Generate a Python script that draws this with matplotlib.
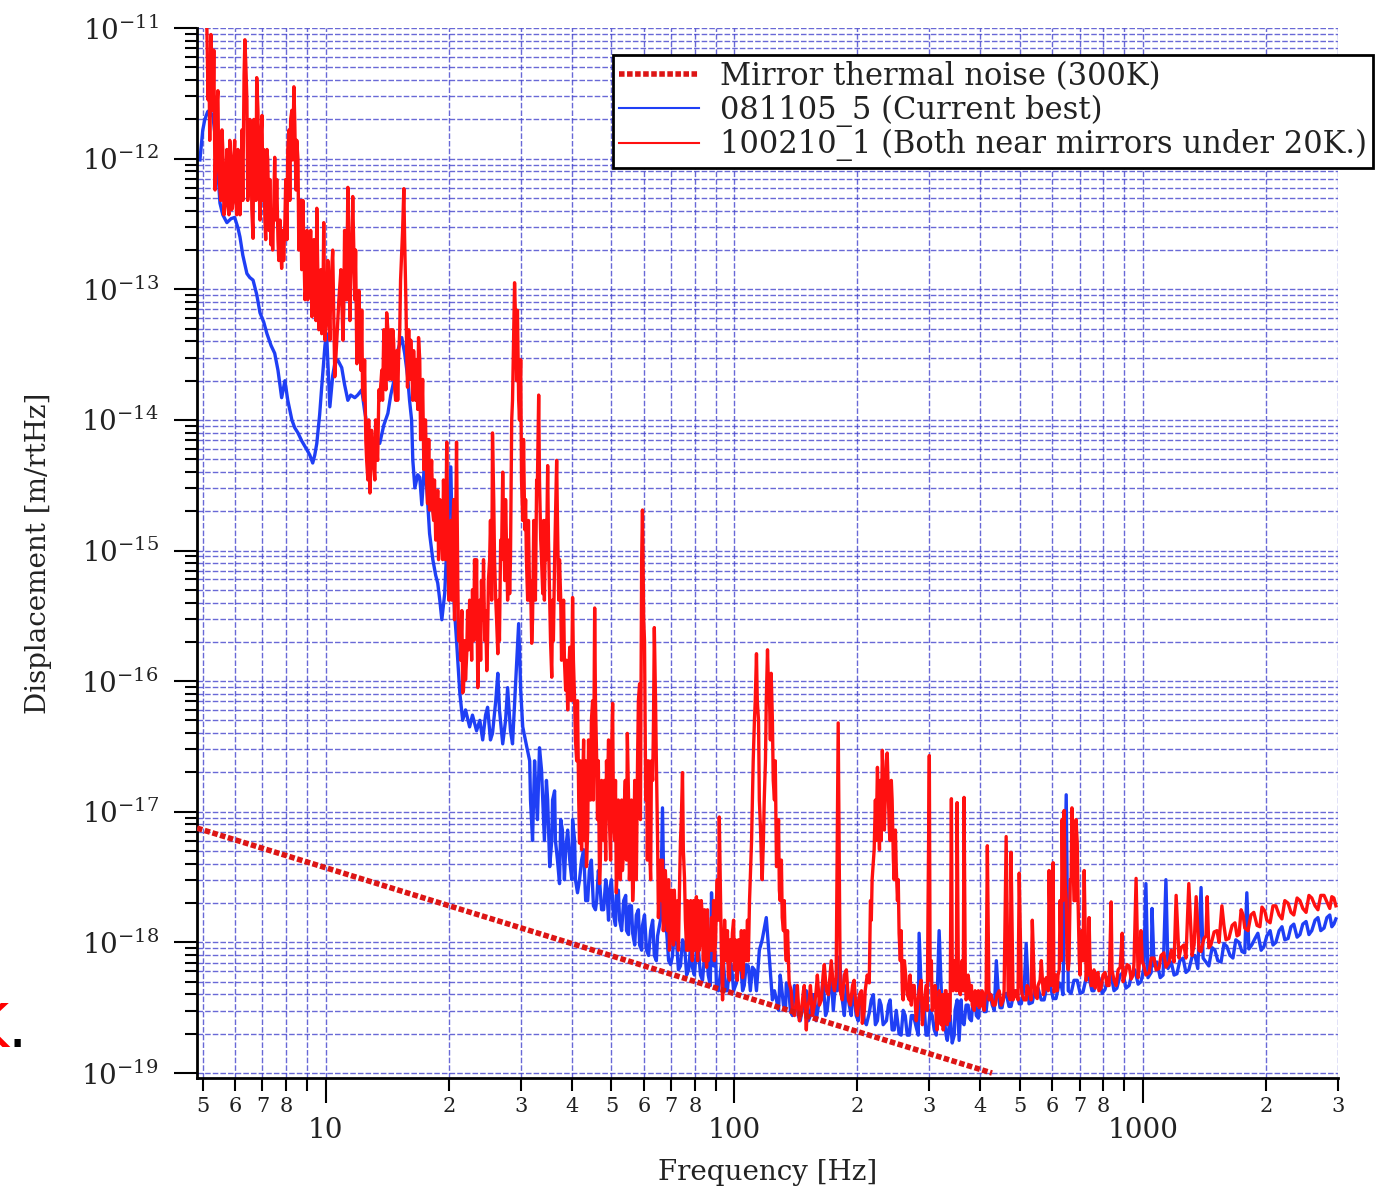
import numpy as np
import matplotlib
matplotlib.use("Agg")
import matplotlib.pyplot as plt
from matplotlib.ticker import FixedLocator, FuncFormatter, LogFormatterMathtext, NullFormatter

plt.rcParams['font.family'] = 'DejaVu Serif'
plt.rcParams['mathtext.default'] = 'regular'
plt.rcParams['axes.unicode_minus'] = False

# mirror thermal noise (300 K): power law, end points
thermal_freq = [4.84, 427.0]
thermal_disp = [7.5e-18, 1.0e-19]

# 081105_5 spectrum, log10(freq [Hz]) and log10(displacement [m/rtHz])
blue_logf = [
    0.692, 0.699, 0.704, 0.711, 0.716, 0.724, 0.729, 0.733, 0.738, 0.741,
    0.748, 0.758, 0.768, 0.777, 0.785, 0.790, 0.797, 0.807, 0.814, 0.822,
    0.831, 0.839, 0.848, 0.856, 0.866, 0.875, 0.883, 0.892, 0.900, 0.907,
    0.917, 0.924, 0.932, 0.941, 0.954, 0.961, 0.968, 0.973, 0.978, 0.985,
    0.990, 0.998, 1.002, 1.007, 1.010, 1.017, 1.022, 1.029, 1.039, 1.046,
    1.054, 1.061, 1.071, 1.078, 1.088, 1.095, 1.103, 1.110, 1.115, 1.125,
    1.132, 1.142, 1.152, 1.159, 1.169, 1.176, 1.186, 1.193, 1.200, 1.205,
    1.210, 1.213, 1.218, 1.225, 1.230, 1.235, 1.242, 1.249, 1.254, 1.262,
    1.269, 1.274, 1.279, 1.284, 1.291, 1.298, 1.306, 1.311, 1.315, 1.320,
    1.328, 1.335, 1.342, 1.352, 1.359, 1.369, 1.377, 1.384, 1.391, 1.396,
    1.403, 1.408, 1.416, 1.421, 1.425, 1.433, 1.440, 1.445, 1.452, 1.457,
    1.465, 1.472, 1.477, 1.482, 1.491, 1.499, 1.506, 1.514, 1.523, 1.531,
    1.540, 1.548, 1.555, 1.562, 1.572, 1.579, 1.587, 1.597, 1.604, 1.611,
    1.616, 1.626, 1.636, 1.645, 1.655, 1.663, 1.670, 1.680, 1.687, 1.694,
    1.704, 1.711, 1.719, 1.729, 1.736, 1.743, 1.751, 1.760, 1.768, 1.775,
    1.785, 1.795, 1.804, 1.812, 1.819, 1.824, 1.829, 1.839, 1.848, 1.858,
    1.868, 1.878, 1.888, 1.897, 1.907, 1.917, 1.927, 1.936, 1.944, 1.949,
    1.956, 1.963, 1.973, 1.983, 1.993, 2.005, 2.015, 2.024, 2.034, 2.044,
    2.054, 2.061, 2.068, 2.078, 2.086, 2.093, 2.103, 2.112, 2.120, 2.127,
    2.137, 2.147, 2.156, 2.166, 2.176, 2.186, 2.196, 2.208, 2.217, 2.227,
    2.237, 2.247, 2.257, 2.264, 2.274, 2.281, 2.289, 2.298, 2.308, 2.318,
    2.330, 2.340, 2.350, 2.359, 2.372, 2.381, 2.391, 2.403, 2.413, 2.423,
    2.433, 2.445, 2.452, 2.460, 2.469, 2.479, 2.489, 2.496, 2.501, 2.509,
    2.518, 2.526, 2.533, 2.540, 2.545, 2.550, 2.557, 2.567, 2.575, 2.584,
    2.592, 2.601, 2.611, 2.621, 2.631, 2.641, 2.650, 2.660, 2.672, 2.685,
    2.697, 2.709, 2.714, 2.721, 2.736, 2.751, 2.765, 2.780, 2.795, 2.804,
    2.812, 2.817, 2.831, 2.846, 2.861, 2.875, 2.885, 2.900, 2.914, 2.929,
    2.944, 2.958, 2.973, 2.988, 3.002, 3.007, 3.012, 3.022, 3.027, 3.042,
    3.056, 3.061, 3.076, 3.090, 3.105, 3.120, 3.134, 3.142, 3.147, 3.161,
    3.176, 3.191, 3.205, 3.220, 3.235, 3.249, 3.254, 3.259, 3.274, 3.289,
    3.303, 3.318, 3.333, 3.347, 3.362, 3.377, 3.391, 3.406, 3.421, 3.435,
    3.450, 3.462, 3.472,
]
blue_logd = [
    -12.01, -11.78, -11.70, -11.64, -11.63, -11.68, -11.82, -11.96, -12.20, -12.34,
    -12.43, -12.49, -12.46, -12.45, -12.53, -12.60, -12.74, -12.88, -12.91, -12.93,
    -13.04, -13.18, -13.25, -13.34, -13.43, -13.49, -13.62, -13.83, -13.70, -13.85,
    -14.00, -14.06, -14.10, -14.16, -14.23, -14.27, -14.33, -14.27, -14.18, -13.96,
    -13.75, -13.43, -13.34, -13.70, -13.90, -13.66, -13.57, -13.54, -13.60, -13.73,
    -13.85, -13.81, -13.83, -13.81, -13.77, -13.93, -14.08, -14.16, -14.18, -14.16,
    -14.18, -14.04, -13.95, -13.81, -13.67, -13.47, -13.37, -13.49, -13.66, -13.85,
    -14.00, -14.31, -14.52, -14.42, -14.44, -14.65, -14.31, -14.61, -14.87, -15.07,
    -15.19, -15.25, -15.38, -15.53, -15.33, -14.84, -14.36, -15.20, -15.46, -15.69,
    -16.09, -16.30, -16.22, -16.35, -16.26, -16.38, -16.30, -16.45, -16.26, -16.20,
    -16.45, -16.40, -16.15, -15.94, -16.22, -16.48, -16.30, -16.05, -16.38, -16.48,
    -15.99, -15.56, -16.07, -16.35, -16.49, -16.61, -17.22, -16.84, -16.51, -16.91,
    -16.76, -17.42, -16.91, -17.22, -17.55, -17.14, -17.29, -17.37, -17.06, -17.52,
    -17.62, -17.37, -17.68, -17.45, -17.72, -17.68, -17.52, -17.75, -17.56, -17.62,
    -17.79, -17.64, -17.83, -17.68, -17.91, -17.72, -17.93, -17.79, -18.02, -17.87,
    -18.06, -17.91, -18.10, -17.95, -17.83, -16.97, -17.91, -18.14, -18.11, -17.98,
    -18.18, -18.02, -18.21, -18.19, -18.06, -18.25, -18.10, -18.25, -17.62, -18.18,
    -18.33, -18.31, -18.14, -18.37, -18.18, -18.31, -18.14, -18.33, -18.18, -18.19,
    -18.37, -18.06, -17.98, -17.81, -18.14, -18.44, -18.44, -18.25, -18.48, -18.31,
    -18.52, -18.33, -18.56, -18.52, -18.37, -18.56, -18.40, -18.44, -18.29, -18.52,
    -18.25, -18.33, -18.11, -18.44, -18.33, -18.48, -18.39, -18.56, -18.40, -18.60,
    -18.54, -18.40, -18.60, -18.48, -18.60, -18.44, -18.67, -18.70, -18.52, -18.71,
    -18.56, -18.65, -17.93, -18.60, -18.71, -18.52, -18.67, -18.44, -17.91, -18.60,
    -18.71, -18.63, -18.77, -18.52, -18.44, -18.75, -18.60, -18.48, -18.58, -18.43,
    -18.56, -18.40, -18.53, -18.37, -18.48, -18.14, -18.50, -18.40, -18.49, -18.37,
    -18.47, -18.35, -18.01, -18.47, -18.35, -18.44, -18.33, -18.43, -18.31, -18.40,
    -16.87, -18.37, -18.29, -18.39, -18.27, -18.37, -18.29, -18.39, -18.27, -18.37,
    -18.25, -18.35, -18.23, -18.32, -18.20, -17.55, -18.27, -17.74, -18.18, -18.27,
    -17.52, -18.20, -18.25, -18.14, -18.23, -18.11, -18.20, -17.58, -18.12, -18.18,
    -18.06, -18.15, -18.03, -18.12, -18.00, -18.08, -17.62, -18.05, -17.97, -18.06,
    -17.95, -18.02, -17.91, -17.98, -17.88, -17.96, -17.86, -17.94, -17.83, -17.91,
    -17.81, -17.88, -17.82,
]
# extra bins of the noise band above 30 Hz
blue_extra_logf = [
    1.501, 1.511, 1.518, 1.528, 1.535, 1.543, 1.553, 1.560, 1.567, 1.575,
    1.584, 1.592, 1.602, 1.609, 1.621, 1.631, 1.641, 1.650, 1.660, 1.667,
    1.675, 1.685, 1.692, 1.699, 1.709, 1.716, 1.724, 1.734, 1.741, 1.748,
    1.756, 1.765, 1.773, 1.780, 1.790, 1.800, 1.809, 1.834, 1.844, 1.853,
    1.863, 1.873, 1.883, 1.893, 1.902, 1.912, 1.922, 1.932, 1.941, 1.954,
    1.961, 1.968, 1.978, 1.988, 1.998, 2.010, 2.020, 2.029, 2.039, 2.049,
    2.098, 2.108, 2.115, 2.125, 2.132, 2.142, 2.152, 2.161, 2.171, 2.181,
    2.191, 2.200, 2.213, 2.223, 2.232, 2.242, 2.252, 2.269, 2.276, 2.286,
    2.293, 2.303, 2.313, 2.323, 2.335, 2.345, 2.355, 2.364, 2.377, 2.386,
    2.396, 2.408, 2.418, 2.428, 2.438, 2.450, 2.465, 2.474, 2.484, 2.494,
    2.513, 2.521, 2.528, 2.538, 2.555, 2.562, 2.572, 2.580, 2.589, 2.597,
    2.606, 2.616, 2.626, 2.636,
    2.646, 2.655, 2.665, 2.677, 2.690, 2.702, 2.729, 2.743, 2.758, 2.773,
    2.787, 2.800, 2.824, 2.839, 2.853, 2.868, 2.880, 2.892, 2.907, 2.922,
    2.936, 2.951, 2.966, 2.980, 2.995, 3.020, 3.034, 3.049, 3.069, 3.083,
    3.098, 3.112, 3.127, 3.154, 3.169, 3.183, 3.198, 3.213, 3.227, 3.242,
    3.266, 3.281, 3.296, 3.311, 3.325, 3.340, 3.355, 3.369, 3.384, 3.399,
    3.413, 3.428, 3.443, 3.457, 3.467,
]
blue_extra_logd = [
    -16.91, -16.61, -17.06, -16.68, -17.22, -16.91, -17.22, -16.84, -17.37, -17.06,
    -17.52, -17.14, -17.52, -17.22, -17.52, -17.29, -17.68, -17.37, -17.75, -17.45,
    -17.75, -17.52, -17.83, -17.52, -17.87, -17.60, -17.91, -17.64, -17.94, -17.72,
    -18.02, -17.75, -18.06, -17.79, -18.10, -17.83, -18.14, -17.91, -18.17, -17.94,
    -18.21, -17.98, -18.25, -18.02, -18.25, -18.06, -18.29, -18.06, -18.33, -18.10,
    -18.37, -18.17, -18.37, -18.14, -18.37, -18.17, -18.37, -18.17, -18.37, -18.21,
    -18.37, -18.52, -18.33, -18.52, -18.33, -18.56, -18.37, -18.60, -18.40, -18.60,
    -18.40, -18.60, -18.40, -18.56, -18.37, -18.52, -18.37, -18.56, -18.37, -18.56,
    -18.40, -18.60, -18.44, -18.63, -18.44, -18.63, -18.44, -18.63, -18.48, -18.67,
    -18.52, -18.71, -18.56, -18.71, -18.56, -18.71, -18.52, -18.71, -18.56, -18.71,
    -18.56, -18.75, -18.56, -18.71, -18.44, -18.63, -18.48, -18.60, -18.44, -18.58,
    -18.43, -18.53, -18.40, -18.52,
    -18.40, -18.50, -18.39, -18.49, -18.37, -18.47, -18.46, -18.35, -18.44, -18.33,
    -18.43, -18.33, -18.39, -18.29, -18.38, -18.27, -18.37, -18.27, -18.36, -18.25,
    -18.35, -18.23, -18.33, -18.21, -18.30, -18.23, -18.15, -18.25, -18.15, -18.24,
    -18.12, -18.21, -18.10, -18.15, -18.04, -18.14, -18.01, -18.10, -17.98, -18.07,
    -18.02, -17.93, -18.03, -17.91, -18.00, -17.88, -17.97, -17.86, -17.94, -17.84,
    -17.91, -17.81, -17.89, -17.79, -17.86,
]

# 100210_1 spectrum, same units
red_logf = [
    0.709, 0.714, 0.719, 0.724, 0.726, 0.731, 0.736, 0.741, 0.746, 0.753,
    0.758, 0.763, 0.768, 0.773, 0.777, 0.782, 0.787, 0.792, 0.800, 0.802,
    0.807, 0.812, 0.817, 0.822, 0.826, 0.831, 0.836, 0.844, 0.851, 0.858,
    0.866, 0.873, 0.875, 0.883, 0.892, 0.900, 0.907, 0.914, 0.922, 0.929,
    0.936, 0.944, 0.951, 0.958, 0.966, 0.973, 0.978, 0.985, 0.990, 0.995,
    1.002, 1.012, 1.022, 1.032, 1.042, 1.049, 1.054, 1.061, 1.066, 1.076,
    1.083, 1.090, 1.098, 1.103, 1.108, 1.115, 1.125, 1.132, 1.142, 1.149,
    1.156, 1.164, 1.171, 1.178, 1.186, 1.191, 1.196, 1.200, 1.210, 1.220,
    1.227, 1.235, 1.242, 1.249, 1.257, 1.262, 1.271, 1.279, 1.286, 1.296,
    1.303, 1.311, 1.320, 1.328, 1.335, 1.345, 1.355, 1.364, 1.372, 1.381,
    1.389, 1.394, 1.401, 1.408, 1.416, 1.421, 1.428, 1.433, 1.443, 1.450,
    1.455, 1.460, 1.462, 1.467, 1.469, 1.474, 1.479, 1.487, 1.491, 1.499,
    1.504, 1.511, 1.516, 1.521, 1.526, 1.531, 1.538, 1.543, 1.548, 1.553,
    1.560, 1.565, 1.572, 1.579, 1.587, 1.592, 1.597, 1.604, 1.609, 1.614,
    1.621, 1.628, 1.638, 1.645, 1.653, 1.658, 1.663, 1.670, 1.677, 1.687,
    1.694, 1.702, 1.707, 1.711, 1.719, 1.726, 1.733, 1.738, 1.746, 1.751,
    1.758, 1.763, 1.768, 1.773, 1.775, 1.780, 1.785, 1.792, 1.800, 1.804,
    1.809, 1.814, 1.819, 1.826, 1.834, 1.841, 1.848, 1.858, 1.866, 1.873,
    1.878, 1.883, 1.890, 1.897, 1.907, 1.914, 1.922, 1.932, 1.939, 1.944,
    1.951, 1.958, 1.963, 1.968, 1.971, 1.978, 1.985, 1.995, 2.005, 2.012,
    2.020, 2.027, 2.037, 2.042, 2.046, 2.054, 2.059, 2.064, 2.068, 2.073,
    2.078, 2.081, 2.086, 2.090, 2.095, 2.103, 2.110, 2.117, 2.125, 2.134,
    2.142, 2.152, 2.159, 2.169, 2.176, 2.183, 2.191, 2.200, 2.208, 2.217,
    2.225, 2.235, 2.242, 2.249, 2.254, 2.259, 2.269, 2.279, 2.289, 2.298,
    2.306, 2.313, 2.320, 2.330, 2.335, 2.342, 2.350, 2.355, 2.362, 2.367,
    2.374, 2.379, 2.386, 2.391, 2.396, 2.403, 2.411, 2.418, 2.428, 2.435,
    2.445, 2.452, 2.460, 2.467, 2.474, 2.477, 2.482, 2.489, 2.496, 2.504,
    2.511, 2.518, 2.526, 2.531, 2.535, 2.540, 2.545, 2.550, 2.557, 2.562,
    2.567, 2.575, 2.582, 2.592, 2.599, 2.609, 2.616, 2.619, 2.623, 2.633,
    2.643, 2.653, 2.660, 2.665, 2.670, 2.677, 2.682, 2.689, 2.697, 2.704,
    2.714, 2.721, 2.729, 2.736, 2.743, 2.751, 2.758, 2.765, 2.770, 2.775,
    2.780, 2.785, 2.792, 2.797, 2.802, 2.807, 2.812, 2.817, 2.822, 2.826,
    2.831, 2.836, 2.839, 2.844, 2.851, 2.856, 2.861, 2.868, 2.875, 2.885,
    2.892, 2.902, 2.912, 2.922, 2.929, 2.939, 2.949, 2.956, 2.966, 2.976,
    2.983, 2.990, 2.995, 3.002, 3.015, 3.027, 3.039, 3.051, 3.064, 3.081,
    3.088, 3.100, 3.112, 3.120, 3.130, 3.137, 3.149, 3.157, 3.166, 3.181,
    3.193, 3.203, 3.218, 3.230, 3.240, 3.249, 3.264, 3.279, 3.291, 3.303,
    3.318, 3.333, 3.347, 3.362, 3.377, 3.391, 3.406, 3.421, 3.435, 3.450,
    3.462, 3.472,
]
red_logd = [
    -11.00, -11.25, -11.05, -11.63, -11.17, -11.93, -11.48, -12.24, -11.78, -12.32,
    -11.93, -12.43, -12.01, -12.32, -11.86, -12.43, -12.09, -12.24, -11.36, -11.09,
    -11.55, -12.16, -11.78, -12.61, -11.86, -11.38, -12.09, -11.67, -12.47, -12.01,
    -12.66, -12.32, -11.99, -12.62, -12.84, -12.47, -11.93, -11.70, -11.45, -11.86,
    -12.55, -12.32, -13.01, -12.70, -13.21, -12.70, -12.38, -13.08, -13.34, -12.49,
    -13.24, -13.01, -13.67, -13.08, -13.39, -12.78, -12.22, -12.93, -12.29, -13.57,
    -13.24, -13.77, -14.16, -14.46, -14.56, -14.23, -14.25, -13.85, -13.31, -13.18,
    -13.54, -13.31, -13.85, -13.54, -12.70, -12.23, -13.08, -13.75, -13.54, -13.85,
    -13.37, -14.00, -14.31, -14.64, -14.46, -14.71, -14.84, -14.61, -15.07, -14.17,
    -15.20, -14.84, -14.17, -15.59, -16.09, -15.79, -15.53, -15.07, -16.05, -15.23,
    -15.69, -15.92, -15.07, -14.10, -15.38, -15.79, -14.92, -14.40, -15.07, -15.33,
    -14.00, -13.31, -12.95, -13.70, -13.16, -14.00, -14.46, -14.84, -15.07, -15.38,
    -15.71, -15.07, -14.46, -13.81, -14.92, -15.33, -14.77, -14.35, -15.38, -15.97,
    -15.07, -14.31, -15.07, -15.59, -16.07, -16.22, -15.74, -15.36, -16.15, -16.61,
    -17.24, -16.91, -17.42, -16.76, -16.15, -15.44, -16.61, -17.55, -17.01, -16.61,
    -17.06, -16.17, -17.22, -17.62, -17.06, -17.45, -16.76, -16.40, -17.29, -17.68,
    -17.06, -16.61, -16.02, -15.07, -14.69, -15.69, -16.61, -17.22, -16.76, -15.59,
    -16.61, -17.81, -17.37, -17.91, -17.68, -18.06, -17.75, -17.98, -17.52, -16.70,
    -17.52, -18.06, -17.83, -18.14, -17.65, -18.06, -17.83, -18.19, -17.91, -17.81,
    -18.14, -17.52, -17.04, -18.06, -18.44, -17.98, -18.25, -17.93, -18.21, -17.98,
    -18.27, -17.98, -17.68, -17.22, -16.61, -15.79, -16.30, -17.14, -17.52, -16.91,
    -16.15, -15.76, -16.15, -15.94, -16.76, -17.42, -17.60, -17.81, -18.06, -18.31,
    -18.52, -18.44, -18.60, -18.37, -18.67, -18.44, -18.56, -18.37, -18.48, -18.25,
    -18.37, -18.21, -18.33, -18.27, -16.32, -18.37, -18.25, -18.44, -18.33, -18.52,
    -18.40, -18.62, -18.37, -18.31, -17.83, -17.29, -16.66, -17.29, -16.53, -17.14,
    -16.55, -17.14, -16.91, -17.52, -17.42, -17.93, -18.37, -18.21, -18.44, -18.33,
    -18.60, -18.37, -18.63, -18.40, -17.68, -16.57, -18.14, -18.44, -18.67, -18.44,
    -18.67, -18.37, -18.60, -16.90, -18.37, -18.14, -16.93, -18.37, -18.14, -16.89,
    -18.44, -18.33, -18.48, -18.40, -18.50, -18.44, -18.37, -17.26, -18.44, -18.48,
    -18.40, -18.48, -18.37, -17.19, -18.40, -17.31, -18.44, -18.37, -17.47, -18.40,
    -18.44, -18.37, -17.83, -18.40, -18.33, -18.14, -18.37, -18.33, -17.45, -18.33,
    -17.39, -18.37, -18.25, -17.68, -17.06, -16.99, -17.68, -18.21, -17.52, -16.97,
    -17.68, -17.06, -17.24, -18.14, -17.91, -17.45, -18.29, -17.81, -18.33, -18.25,
    -18.37, -18.25, -18.33, -17.69, -18.29, -18.21, -17.93, -18.25, -18.18, -18.25,
    -17.51, -18.21, -17.91, -18.18, -18.23, -18.12, -18.20, -18.08, -18.15, -17.64,
    -18.12, -18.02, -17.55, -18.10, -17.65, -18.06, -17.97, -17.65, -18.02, -17.91,
    -17.72, -17.98, -17.87, -17.95, -17.75, -17.89, -17.79, -17.87, -17.73, -17.83,
    -17.72, -17.79, -17.68, -17.77, -17.66, -17.74, -17.64, -17.72, -17.64, -17.69,
    -17.65, -17.72,
]
# extra bins filling the noise band between the listed ones
red_extra_logf = [
    0.712, 0.716, 0.721, 0.729, 0.733, 0.738, 0.743, 0.748, 0.751, 0.756,
    0.760, 0.765, 0.770, 0.775, 0.780, 0.785, 0.790, 0.795, 0.797, 0.804,
    0.809, 0.814, 0.819, 0.824, 0.829, 0.834, 0.839, 0.841, 0.846, 0.848,
    0.853, 0.856, 0.861, 0.863, 0.868, 0.870, 0.878, 0.880, 0.885, 0.888,
    0.890, 0.895, 0.897, 0.902, 0.905, 0.910, 0.912, 0.917, 0.919, 0.924,
    0.927, 0.932, 0.934, 0.939, 0.941, 0.946, 0.949, 0.954, 0.956, 0.961,
    0.963, 0.968, 0.971, 0.976, 0.980, 0.983, 0.988, 0.993, 0.998,
    1.005, 1.010, 1.017, 1.027, 1.037, 1.044, 1.046, 1.051, 1.056, 1.059,
    1.064, 1.071, 1.073, 1.078, 1.081, 1.086, 1.088, 1.093, 1.095, 1.100,
    1.105, 1.110, 1.112, 1.120, 1.122, 1.127, 1.130, 1.137, 1.139, 1.144,
    1.147, 1.152, 1.154, 1.159, 1.161, 1.166, 1.169, 1.174, 1.176, 1.181,
    1.183, 1.188, 1.193, 1.198, 1.203, 1.205, 1.208, 1.213, 1.215, 1.218,
    1.222, 1.225, 1.230, 1.232, 1.237, 1.240, 1.244, 1.247, 1.252, 1.254,
    1.259, 1.264, 1.266, 1.269, 1.274, 1.276, 1.281, 1.284, 1.288, 1.293,
    1.298, 1.301, 1.306, 1.308, 1.313, 1.315, 1.318, 1.323, 1.325,
    1.330, 1.333, 1.337, 1.340, 1.342, 1.347, 1.350, 1.352, 1.357, 1.359,
    1.362, 1.367, 1.369, 1.374, 1.377, 1.379, 1.384, 1.386, 1.391, 1.396,
    1.398, 1.403, 1.406, 1.411, 1.413, 1.418, 1.423, 1.425, 1.430, 1.435,
    1.438, 1.440, 1.445, 1.447, 1.452, 1.457, 1.465, 1.472, 1.477, 1.482,
    1.484, 1.489, 1.494, 1.496, 1.501, 1.506, 1.509, 1.513, 1.518, 1.523,
    1.528, 1.533, 1.535, 1.540, 1.545, 1.550, 1.555, 1.557, 1.562, 1.567,
    1.570, 1.575, 1.577, 1.582, 1.584, 1.589, 1.594, 1.599, 1.601, 1.606,
    1.611, 1.616, 1.619, 1.623, 1.626, 1.631, 1.633, 1.636, 1.641, 1.643,
    1.648, 1.650, 1.655, 1.660, 1.665, 1.667, 1.672, 1.675, 1.680, 1.682,
    1.685, 1.689, 1.692, 1.697, 1.699, 1.704, 1.709, 1.714, 1.716, 1.721,
    1.724, 1.729, 1.731, 1.736, 1.741, 1.743, 1.748, 1.753, 1.756, 1.760,
    1.765, 1.770, 1.778, 1.783, 1.787, 1.790, 1.795, 1.797, 1.802, 1.807,
    1.812, 1.817, 1.822, 1.824, 1.829, 1.831, 1.836, 1.839, 1.844, 1.846,
    1.851, 1.853, 1.856, 1.861, 1.863, 1.868, 1.870, 1.875, 1.880, 1.885,
    1.888, 1.893, 1.895, 1.900, 1.902, 1.905, 1.910, 1.912, 1.917, 1.919,
    1.924, 1.927, 1.929, 1.934, 1.936, 1.941, 1.946, 1.949, 1.954, 1.956,
    1.961, 1.966, 1.973, 1.976, 1.980, 1.983, 1.988, 1.990, 1.993, 1.998,
    2.000, 2.002, 2.007, 2.010, 2.015, 2.017, 2.022, 2.024, 2.029, 2.032,
    2.034,
    2.049, 2.051, 2.056, 2.061, 2.066, 2.071, 2.076, 2.083, 2.088, 2.093,
    2.098, 2.100, 2.105, 2.108, 2.112, 2.115, 2.120, 2.122, 2.127, 2.130,
    2.139, 2.147, 2.154, 2.164, 2.171, 2.178, 2.186, 2.196, 2.203, 2.213,
    2.220, 2.230, 2.237, 2.245, 2.264, 2.274, 2.284, 2.293, 2.301, 2.311,
    2.318, 2.325, 2.333, 2.337, 2.345, 2.347, 2.352, 2.357, 2.359, 2.364,
    2.369, 2.372, 2.377, 2.381, 2.384, 2.389, 2.394, 2.399, 2.401, 2.406,
    2.408, 2.413, 2.416, 2.423, 2.430, 2.433, 2.440, 2.447, 2.457, 2.462,
    2.469, 2.472, 2.479, 2.484, 2.491, 2.494, 2.501, 2.506, 2.509, 2.513,
    2.516, 2.521, 2.523, 2.528, 2.533, 2.538, 2.543, 2.548, 2.553, 2.555,
    2.560, 2.565, 2.570, 2.572, 2.577, 2.580, 2.587, 2.589, 2.594, 2.597,
    2.604, 2.606, 2.611, 2.614, 2.628, 2.638, 2.648, 2.658, 2.675, 2.687,
    2.694, 2.702, 2.709, 2.716, 2.726, 2.734, 2.741, 2.748, 2.756, 2.763,
    2.768, 2.777, 2.782, 2.787, 2.790, 2.795, 2.800, 2.804, 2.809, 2.814,
    2.819, 2.824, 2.829, 2.834, 2.841, 2.846, 2.848, 2.853, 2.858, 2.863,
    2.866, 2.870, 2.873, 2.880, 2.883, 2.890, 2.897, 2.907, 2.917, 2.924,
    2.934, 2.944, 2.951, 2.961, 2.971, 2.978, 2.988, 2.998, 3.007, 3.020,
    3.032, 3.044, 3.056, 3.069, 3.076, 3.093, 3.105, 3.125, 3.142, 3.154,
    3.161, 3.174, 3.186, 3.198, 3.210, 3.225, 3.235, 3.245, 3.257, 3.271,
    3.286, 3.298, 3.311, 3.325, 3.340, 3.355, 3.369, 3.384, 3.399, 3.413,
    3.428, 3.443, 3.457, 3.467,
]
red_extra_logd = [
    -11.55, -11.86, -11.25, -12.24, -11.63, -12.09, -12.32, -11.93, -12.43, -12.09,
    -12.36, -11.86, -12.39, -12.01, -12.32, -11.93, -12.43, -11.78, -12.32, -11.25,
    -12.32, -11.70, -12.39, -11.70, -12.32, -11.63, -12.47, -11.86, -12.32, -11.93,
    -12.62, -11.93, -12.55, -12.16, -12.39, -12.70, -12.47, -12.16, -12.78, -12.47,
    -12.70, -12.55, -12.78, -12.16, -12.62, -11.78, -12.32, -11.63, -12.01, -11.70,
    -12.24, -12.01, -12.70, -12.32, -12.85, -12.62, -13.08, -12.55, -13.08, -12.85,
    -12.55, -13.01, -12.62, -13.24, -12.78, -13.31, -12.85, -13.08, -13.39,
    -12.78, -13.39, -12.70, -13.39, -12.85, -13.16, -12.55, -13.08, -12.55, -13.24,
    -12.62, -13.08, -12.70, -13.39, -13.01, -13.62, -13.16, -13.85, -13.54, -14.31,
    -14.00, -14.38, -14.08, -14.46, -14.00, -14.31, -13.77, -13.62, -13.85, -13.47,
    -13.77, -13.31, -13.69, -13.31, -13.69, -13.39, -13.77, -13.47, -13.85, -13.31,
    -12.93, -12.55, -12.62, -13.47, -13.31, -13.69, -13.39, -13.85, -13.47, -13.77,
    -13.54, -13.92, -13.54, -14.15, -13.69, -14.38, -14.00, -14.46, -14.15, -14.69,
    -14.31, -14.77, -14.46, -14.92, -14.54, -15.07, -14.69, -14.92, -14.46, -15.07,
    -14.77, -15.38, -14.77, -15.38, -14.61, -15.53, -14.77, -15.23, -15.69,
    -15.84, -15.46, -16.07, -15.69, -15.99, -15.46, -15.76, -15.38, -15.84, -15.30,
    -15.69, -15.53, -15.07, -15.76, -15.38, -15.84, -15.53, -15.07, -15.46, -15.69,
    -15.23, -14.77, -15.38, -14.61, -15.07, -15.53, -15.38, -15.69, -15.07, -14.77,
    -15.23, -14.61, -15.38, -14.92, -15.07, -13.85, -13.31, -13.85, -13.54, -14.77,
    -14.15, -14.61, -15.38, -14.77, -15.23, -15.53, -14.77, -15.38, -14.46, -14.46,
    -15.07, -14.77, -15.38, -15.07, -14.92, -15.69, -15.38, -15.69, -14.77, -14.77,
    -15.38, -15.38, -15.84, -15.38, -15.84, -15.84, -15.99, -15.84, -16.15, -15.84,
    -16.45, -16.15, -16.91, -16.61, -17.29, -16.45, -17.22, -16.61, -17.14, -16.45,
    -16.91, -16.30, -16.91, -16.15, -17.06, -16.61, -17.37, -16.76, -17.22, -16.76,
    -17.37, -16.91, -16.45, -17.37, -16.61, -17.06, -16.76, -17.37, -16.91, -17.52,
    -16.91, -17.29, -16.91, -17.37, -16.91, -17.52, -16.91, -17.52, -16.76, -17.52,
    -16.15, -17.06, -15.53, -16.91, -17.37, -16.61, -17.52, -16.61, -16.30, -16.15,
    -17.22, -17.52, -17.68, -17.37, -17.75, -17.45, -17.91, -17.52, -17.91, -17.60,
    -18.02, -17.60, -17.91, -17.68, -18.06, -17.22, -17.06, -17.29, -17.83, -17.68,
    -18.06, -17.68, -17.98, -17.68, -18.06, -17.75, -18.14, -17.68, -17.98, -17.68,
    -18.14, -17.75, -18.06, -17.75, -18.14, -18.06, -18.06, -17.68, -17.98, -17.68,
    -17.83, -17.68, -18.14, -17.83, -18.14, -17.91, -18.29, -17.98, -18.14, -17.83,
    -18.21, -17.98, -18.29, -17.98, -18.21, -17.91, -18.21, -17.91, -18.14, -17.83,
    -18.14,
    -16.30, -16.15, -16.15, -16.91, -17.37, -17.22, -16.61, -16.00, -16.45, -16.30,
    -16.91, -16.61, -17.37, -17.06, -17.68, -17.37, -17.91, -17.68, -18.14, -17.91,
    -18.37, -18.56, -18.33, -18.52, -18.33, -18.52, -18.33, -18.48, -18.25, -18.44,
    -18.17, -18.40, -18.14, -18.37, -18.44, -18.21, -18.48, -18.29, -18.56, -18.37,
    -18.52, -18.25, -17.68, -17.52, -16.91, -17.22, -16.91, -16.76, -17.22, -16.76,
    -16.91, -16.61, -16.91, -17.22, -16.76, -17.37, -17.14, -17.68, -17.52, -18.14,
    -17.91, -18.44, -18.14, -18.40, -18.25, -18.48, -18.33, -18.52, -18.29, -18.56,
    -18.33, -18.52, -18.29, -18.52, -18.33, -18.60, -18.37, -18.63, -18.40, -18.60,
    -18.37, -18.63, -18.40, -18.52, -18.14, -18.14, -18.37, -18.21, -18.40, -18.21,
    -18.37, -18.25, -18.40, -18.25, -18.44, -18.33, -18.52, -18.37, -18.48, -18.37,
    -18.48, -18.37, -18.52, -18.40, -18.40, -18.48, -18.37, -18.44, -18.44, -18.40,
    -18.44, -18.33, -18.44, -18.33, -18.44, -18.33, -18.43, -18.29, -18.40, -18.27,
    -18.37, -18.29, -18.38, -18.25, -18.37, -18.21, -18.14, -17.68, -17.52, -18.14,
    -18.14, -17.52, -17.37, -17.68, -17.68, -18.25, -17.98, -18.14, -17.83, -18.14,
    -18.25, -18.14, -18.33, -18.21, -18.35, -18.23, -18.35, -18.23, -18.33, -18.21,
    -18.33, -18.19, -18.30, -18.17, -18.28, -18.15, -18.27, -18.14, -18.25, -18.12,
    -18.21, -18.10, -18.19, -18.06, -18.15, -18.04, -18.12, -18.02, -18.07, -17.95,
    -18.04, -17.92, -18.00, -17.87, -17.97, -17.85, -17.94, -17.79, -17.91, -17.77,
    -17.88, -17.76, -17.85, -17.72, -17.82, -17.70, -17.79, -17.68, -17.77, -17.66,
    -17.75, -17.64, -17.74, -17.66,
]

labels = ['Mirror thermal noise (300K)',
          '081105_5 (Current best)',
          '100210_1 (Both near mirrors under 20K.)']

# tick positions inside the plotted range
x_major = [10, 100, 1000]
x_minor = [5, 6, 7, 8, 9, 20, 30, 40, 50, 60, 70, 80, 90,
           200, 300, 400, 500, 600, 700, 800, 900, 2000, 3000]
y_major = [10.0 ** e for e in range(-19, -10)]
y_minor = [m * 10.0 ** e for e in range(-19, -11) for m in range(2, 10)]


def merged(lf, ld, extra_lf, extra_ld):
    f = np.concatenate([lf, extra_lf])
    d = np.concatenate([ld, extra_ld])
    order = np.argsort(f, kind='stable')
    return 10.0 ** f[order], 10.0 ** d[order]


blue_f, blue_d = merged(blue_logf, blue_logd, blue_extra_logf, blue_extra_logd)
red_f, red_d = merged(red_logf, red_logd, red_extra_logf, red_extra_logd)

W, H = 1387, 1192
fig = plt.figure(figsize=(W / 100, H / 100), dpi=100)
ax = fig.add_axes([197 / W, 1 - 1078 / H, (1338 - 197) / W, (1078 - 28) / H])

txt = '#222222'
bl, = ax.plot(blue_f, blue_d, color='#1f3ff5', lw=2.4, zorder=2)
rd, = ax.plot(red_f, red_d, color='#ff1010', lw=2.4, zorder=3)
th, = ax.plot(thermal_freq, thermal_disp, color='#dd1515', lw=4,
              linestyle=(0, (1.0, 0.45)), zorder=4)

ax.set_xscale('log')
ax.set_yscale('log')
ax.set_xlim(4.84, 3000)
ax.set_ylim(10 ** -19.038, 1e-11)

ax.xaxis.set_major_locator(FixedLocator(x_major))
ax.xaxis.set_minor_locator(FixedLocator(x_minor))
ax.xaxis.set_major_formatter(FuncFormatter(lambda v, p: f"{v:g}"))


def minor_label(v, pos):
    m = int(round(v / 10 ** np.floor(np.log10(v) + 1e-9)))
    return '' if m == 9 else str(m)


ax.xaxis.set_minor_formatter(FuncFormatter(minor_label))
ax.yaxis.set_major_locator(FixedLocator(y_major))
ax.yaxis.set_minor_locator(FixedLocator(y_minor))
ax.yaxis.set_major_formatter(LogFormatterMathtext())
ax.yaxis.set_minor_formatter(NullFormatter())

ax.tick_params(axis='x', which='major', direction='out', length=18, width=1.5,
               pad=10, labelsize=20, labelcolor=txt)
ax.tick_params(axis='x', which='minor', direction='out', length=9.5, width=1.5,
               pad=4, labelsize=15, labelcolor=txt)
ax.tick_params(axis='y', which='major', direction='out', length=16.5, width=1.5,
               pad=11, labelsize=20, labelcolor=txt)
ax.tick_params(axis='y', which='minor', direction='out', length=9, width=1.5)

ax.grid(True, which='both', color='#4444cc', linestyle=(0, (4, 1.5)),
        linewidth=1.0, alpha=0.8)
ax.set_axisbelow(True)

ax.spines[['top', 'right']].set_visible(False)
for s in ('left', 'bottom'):
    ax.spines[s].set_linewidth(2)

ax.set_xlabel('Frequency [Hz]', fontsize=20, color=txt)
ax.xaxis.set_label_coords(0.5, -0.077)
ax.set_ylabel('Displacement [m/rtHz]', fontsize=20, color=txt)
ax.yaxis.set_label_coords(-0.127, 0.5)

leg = fig.legend([th, bl, rd], labels, loc='upper right',
                 bbox_to_anchor=(1373 / W, 1 - 55 / H), bbox_transform=fig.transFigure,
                 fontsize=22, frameon=True, fancybox=False, edgecolor='black',
                 framealpha=1, borderpad=0.2, labelspacing=0.08, handlelength=2.6,
                 handletextpad=0.7, borderaxespad=0)
leg.get_frame().set_linewidth(2)
for t in leg.get_texts():
    t.set_color(txt)
for h in leg.legend_handles[1:]:
    h.set_linewidth(1.5)

# fragment of slide text at the left edge
fig.text(9 / W, 1 - 1047 / H, 'K', color='red', fontsize=44, ha='right',
         va='baseline', family='DejaVu Sans')
fig.text(8 / W, 1 - 1047 / H, '.', color='black', fontsize=44, ha='left',
         va='baseline', family='DejaVu Sans')

fig.savefig('out.png', dpi=100, facecolor='white')
